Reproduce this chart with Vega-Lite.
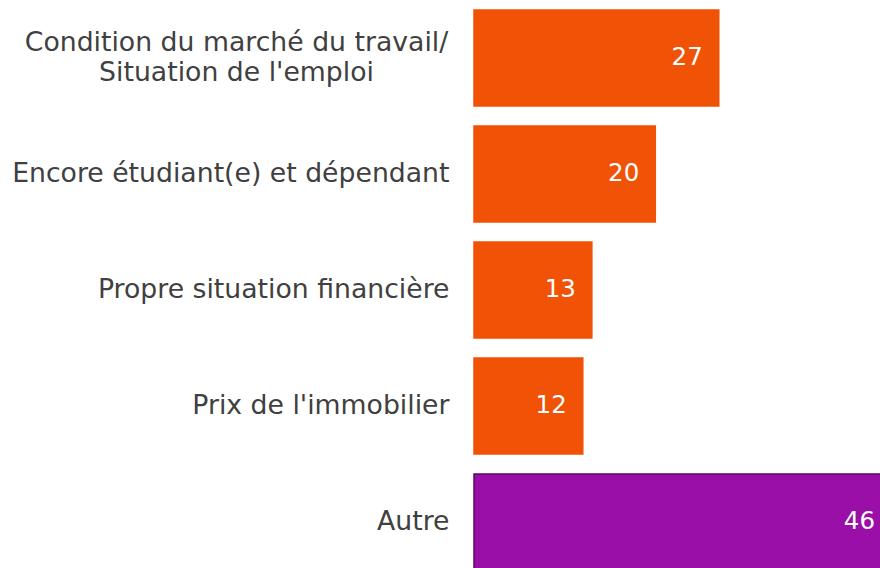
{
  "$schema": "https://vega.github.io/schema/vega-lite/v6.json",
  "autosize": "none",
  "padding": {"left": 474, "top": 0, "right": 0, "bottom": 0},
  "width": 417,
  "height": 580,
  "background": "white",
  "config": {"view": {"stroke": null}, "font": "DejaVu Sans"},
  "data": {"values": [
    {"cause": "Condition du marché du travail/ Situation de l'emploi", "pct": 27, "type": "main"},
    {"cause": "Encore étudiant(e) et dépendant", "pct": 20, "type": "main"},
    {"cause": "Propre situation financière", "pct": 13, "type": "main"},
    {"cause": "Prix de l'immobilier", "pct": 12, "type": "main"},
    {"cause": "Autre", "pct": 46, "type": "other"}
  ]},
  "encoding": {
    "y": {"field": "cause", "type": "nominal", "sort": null,
      "scale": {"paddingInner": 0.1724, "paddingOuter": 0.0862},
      "axis": {"title": null, "domain": false, "ticks": false,
        "labelPadding": {"condition": {"test": "indexof(datum.value, '/') > 0", "value": 238}, "value": 25},
        "labelAlign": {"condition": {"test": "indexof(datum.value, '/') > 0", "value": "center"}, "value": "right"},
        "labelOffset": {"condition": {"test": "indexof(datum.value, '/') > 0", "value": -15}, "value": 0},
        "labelFontSize": 26.7, "labelColor": "#404040", "labelLineHeight": 30, "labelLimit": 600,
        "labelExpr": "indexof(datum.label, '/') > 0 ? [slice(datum.label, 0, indexof(datum.label, '/') + 1), slice(datum.label, indexof(datum.label, '/') + 2)] : datum.label"}},
    "x": {"field": "pct", "type": "quantitative", "scale": {"domain": [0, 46], "nice": false, "zero": true}, "axis": null}
  },
  "layer": [
    {"mark": {"type": "bar"},
     "encoding": {
       "color": {"field": "type", "type": "nominal", "scale": {"domain": ["main", "other"], "range": ["#F05206", "#990FA8"]}, "legend": null},
       "stroke": {"field": "type", "type": "nominal", "scale": {"domain": ["main", "other"], "range": ["#F05206", "#5C0A66"]}, "legend": null},
       "strokeWidth": {"value": 1.5}
     }},
    {"mark": {"type": "text", "align": "right", "dx": -16, "fontSize": 24.5, "color": "white", "baseline": "middle"},
     "encoding": {"text": {"field": "pct", "type": "quantitative"}}}
  ]
}
